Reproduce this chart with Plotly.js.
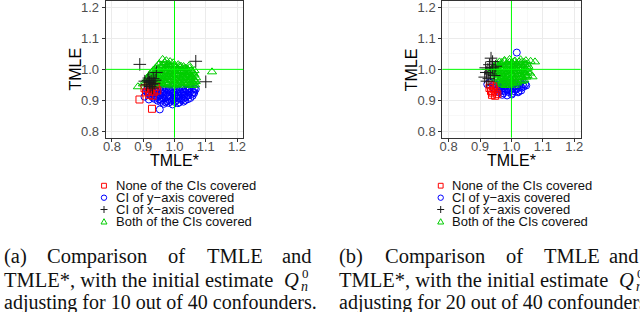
<!DOCTYPE html>
<html>
<head>
<meta charset="utf-8">
<script src="https://cdn.plot.ly/plotly-3.0.1.min.js"></script>
<style>html,body{margin:0;padding:0;background:#fff;}#chart{width:640px;height:312px;}</style>
</head>
<body>
<div id="chart"></div>
<script>
// ---------- Data ----------
const tickVals = [0.8, 0.9, 1.0, 1.1, 1.2];
const tickText = ["0.8", "0.9", "1.0", "1.1", "1.2"];
const legendLabels = ["None of the CIs covered", "CI of y\u2212axis covered", "CI of x\u2212axis covered", "Both of the CIs covered"];

// Panel (a): 10 of 40 confounders
const a_bothX = [0.962,0.974,0.986, 0.951,0.968,0.979,0.996,1.012, 0.943,0.958,0.973,0.991,1.004,1.021,1.036,
  0.933,0.948,0.966,0.979,0.996,1.011,1.024,1.041,1.054, 0.926,0.939,0.956,0.971,0.984,1.001,1.014,1.031,1.046,1.059,
  0.918,0.936,0.951,0.963,0.981,0.994,1.009,1.026,1.039,1.053,1.064, 0.913,0.931,0.944,0.962,0.976,0.989,1.006,1.019,1.034,1.051,1.062,
  0.908,0.924,0.941,0.954,0.971,0.986,0.999,1.016,1.029,1.046,1.058,1.068, 0.921,0.937,0.949,0.966,0.979,0.996,1.008,1.024,1.041,1.056,1.066,
  0.949,0.964,0.983,0.999,1.016,1.029, 0.939,0.956,0.971,0.988,1.003,1.018,1.033,1.048,
  0.931,0.946,0.963,0.978,0.993,1.008,1.022,1.038,1.052,1.064, 0.922,0.943,0.958,0.972,0.988,1.003,1.017,1.032,1.047,1.061,
  0.916,0.938,0.953,0.969,0.983,0.998,1.012,1.027,1.043,1.057,1.069, 0.917,0.933,0.948,0.963,0.979,0.993,1.008,1.022,1.038,1.052,1.064,
  0.914,0.929,0.943,0.958,0.973,0.988,1.003,1.017,1.033,1.049,1.061,
  1.120,0.883,0.899,1.047];
const a_bothY = [1.032,1.028,1.025, 1.018,1.022,1.016,1.021,1.015, 1.008,1.012,1.006,1.011,1.007,1.010,1.004,
  0.998,1.002,0.997,1.001,0.999,1.003,0.996,1.001,0.997, 0.989,0.992,0.987,0.991,0.988,0.993,0.986,0.990,0.988,0.991,
  0.979,0.982,0.977,0.981,0.978,0.983,0.979,0.976,0.981,0.978,0.982, 0.969,0.972,0.967,0.971,0.968,0.973,0.966,0.970,0.968,0.972,0.967,
  0.959,0.962,0.957,0.961,0.958,0.963,0.956,0.960,0.958,0.962,0.957,0.961, 0.951,0.948,0.953,0.949,0.952,0.947,0.951,0.949,0.953,0.948,0.950,
  1.014,1.012,1.015,1.013,1.011,1.009, 1.004,1.006,1.003,1.005,1.004,1.006,1.003,1.005,
  0.994,0.996,0.993,0.995,0.994,0.996,0.993,0.995,0.994,0.996, 0.984,0.986,0.983,0.985,0.984,0.986,0.983,0.985,0.984,0.986,
  0.974,0.976,0.973,0.975,0.974,0.976,0.973,0.975,0.974,0.976,0.973, 0.964,0.966,0.963,0.965,0.964,0.966,0.963,0.965,0.964,0.966,0.963,
  0.955,0.953,0.956,0.954,0.955,0.953,0.956,0.954,0.955,0.953,0.956,
  0.992,0.944,0.953,1.012];
const a_yX = [0.916,0.929,0.946,0.961,0.974,0.991,1.004,1.021,1.036,1.049,1.064,
  0.909,0.926,0.939,0.956,0.969,0.986,0.999,1.016,1.029,1.046,1.061,
  0.921,0.934,0.951,0.964,0.981,0.994,1.011,1.024,1.041,1.056,
  0.931,0.944,0.961,0.976,0.989,1.006,1.019,1.036,1.051,
  0.946,0.959,0.976,0.991,1.004,1.021,1.034,
  0.966,0.981,0.994,1.011,
  0.912,0.922,0.936,0.951,0.966,0.981,0.996,1.011,1.026,1.041,1.056,1.068,
  0.914,0.929,0.944,0.959,0.974,0.989,1.004,1.019,1.034,1.049,1.063,
  0.926,0.939,0.954,0.969,0.984,0.999,1.014,1.029,1.044,1.058,
  0.936,0.951,0.966,0.981,0.997,1.012,1.027,1.043,
  0.956,0.971,0.986,1.001,1.016,1.029,
  0.953,0.904,0.918];
const a_yY = [0.941,0.938,0.942,0.937,0.940,0.943,0.939,0.941,0.936,0.940,0.938,
  0.929,0.932,0.927,0.931,0.928,0.933,0.926,0.930,0.928,0.932,0.927,
  0.919,0.922,0.917,0.921,0.918,0.923,0.916,0.920,0.918,0.921,
  0.909,0.912,0.907,0.911,0.908,0.913,0.906,0.910,0.908,
  0.899,0.902,0.897,0.901,0.898,0.902,0.900,
  0.889,0.892,0.887,0.891,
  0.935,0.934,0.936,0.935,0.934,0.936,0.935,0.934,0.936,0.935,0.934,0.936,
  0.925,0.924,0.926,0.925,0.924,0.926,0.925,0.924,0.926,0.925,0.924,
  0.915,0.914,0.916,0.915,0.914,0.916,0.915,0.914,0.916,0.915,
  0.905,0.904,0.906,0.905,0.904,0.906,0.905,0.904,
  0.895,0.894,0.896,0.895,0.894,0.896,
  0.871,0.912,0.903];
const a_noneX = [0.888,0.928,0.904,0.935,0.919,0.940,0.909,0.925,0.915,0.930,0.945,0.921];
const a_noneY = [0.903,0.873,0.939,0.928,0.918,0.944,0.926,0.935,0.945,0.915,0.932,0.928];
const a_xX = [0.889,1.068,1.100,0.942,0.915,0.920,0.925,0.928,0.932,0.935,0.910,0.922,0.938,0.918,0.930,0.905];
const a_xY = [1.016,1.026,0.960,0.990,0.965,0.958,0.962,0.952,0.970,0.955,0.950,0.945,0.965,0.972,0.940,0.962];

// Panel (b): 20 of 40 confounders
const b_bothX = [0.978,0.994,1.011,1.029,1.046, 0.953,0.969,0.986,1.001,1.016,1.031,1.049,
  0.944,0.961,0.974,0.991,1.006,1.019,1.036,1.054, 0.939,0.954,0.971,0.984,1.001,1.014,1.031,1.046,
  0.941,0.956,0.969,0.986,0.999,1.016,1.029,1.044,1.059, 0.946,0.959,0.976,0.989,1.006,1.019,1.036,1.051,
  0.951,0.966,0.979,0.996,1.009,1.026,1.041, 0.956,0.971,0.984,1.001,1.014,1.031, 0.966,0.981,0.994,1.011,
  0.962,0.978,0.994,1.009,1.024,1.040, 0.952,0.968,0.982,0.998,1.012,1.027,1.043,
  0.946,0.962,0.977,0.993,1.008,1.022,1.038,1.052, 0.947,0.962,0.978,0.992,1.007,1.022,1.037,1.051,
  0.952,0.967,0.982,0.997,1.012,1.027,1.043, 0.957,0.972,0.987,1.002,1.017,1.033,1.047,
  0.962,0.977,0.992,1.007,1.022,1.037, 0.972,0.987,1.002,1.018,
  1.075,1.067,1.061,0.936];
const b_bothY = [1.029,1.032,1.027,1.031,1.028, 1.019,1.022,1.017,1.021,1.018,1.022,1.017,
  1.009,1.012,1.007,1.011,1.008,1.013,1.006,1.010, 0.999,1.002,0.997,1.001,0.998,1.003,0.996,1.000,
  0.989,0.992,0.987,0.991,0.988,0.993,0.986,0.990,0.988, 0.979,0.982,0.977,0.981,0.978,0.983,0.976,0.980,
  0.969,0.972,0.967,0.971,0.968,0.973,0.966, 0.959,0.962,0.957,0.961,0.958,0.962, 0.951,0.948,0.952,0.949,
  1.024,1.025,1.023,1.025,1.024,1.023, 1.014,1.015,1.013,1.015,1.014,1.013,1.015,
  1.004,1.005,1.003,1.005,1.004,1.003,1.005,1.004, 0.994,0.995,0.993,0.995,0.994,0.993,0.995,0.994,
  0.984,0.985,0.983,0.985,0.984,0.983,0.985, 0.974,0.975,0.973,0.975,0.974,0.973,0.975,
  0.964,0.965,0.963,0.965,0.964,0.963, 0.955,0.956,0.954,0.956,
  1.024,0.976,1.026,0.995];
const b_yX = [1.017,0.923, 0.961,0.976,0.991,1.009,1.029,1.044, 0.951,0.966,0.981,0.996,1.011,1.024,1.039,
  0.956,0.969,0.986,0.999,1.016,1.031, 0.961,0.974,0.991,1.004,1.021, 0.971,0.986,1.001,
  0.931,0.946,0.958,0.973,0.988,1.003,1.018,1.036, 0.943,0.957,0.972,0.987,1.002,1.017,1.032,1.047,
  0.962,0.978,0.993,1.008,1.023];
const b_yY = [1.054,0.952, 0.956,0.953,0.957,0.954,0.956,0.952, 0.946,0.943,0.947,0.944,0.946,0.942,0.945,
  0.936,0.933,0.937,0.934,0.936,0.932, 0.926,0.923,0.927,0.924,0.926, 0.918,0.916,0.919,
  0.958,0.951,0.950,0.949,0.951,0.950,0.949,0.951, 0.941,0.940,0.939,0.941,0.940,0.939,0.941,0.948,
  0.930,0.929,0.931,0.930,0.929];
const b_noneX = [0.930,0.935,0.940,0.945,0.938,0.950,0.942,0.955,0.932,0.948];
const b_noneY = [0.940,0.930,0.925,0.935,0.918,0.928,0.945,0.920,0.950,0.915];
const b_xX = [0.935,0.940,0.930,0.925,0.940,0.920,0.933,0.915,0.928,0.945,0.922,0.950,0.918];
const b_xY = [1.036,1.025,1.015,1.000,1.005,0.990,0.985,0.975,0.970,0.980,0.962,1.010,1.005];

// ---------- Styling ----------
const RED = "#ff0000", BLUE = "#0000ff", BLACK = "#1a1a1a", GREEN = "#00cd00", REFLINE = "#00ff00";
const W = 640, H = 312;
const px = v => v / W;
const py = v => 1 - v / H;

function series(x, y, xa, ya, symbol, color, size) {
  return {type: "scatter", mode: "markers", x: x, y: y, xaxis: xa, yaxis: ya, hoverinfo: "skip",
    marker: {symbol: symbol, size: size, color: color, line: {color: color, width: 1}}, showlegend: false};
}

const traces = [
  series(a_yX, a_yY, "x", "y", "circle-open", BLUE, 7),
  series(a_bothX, a_bothY, "x", "y", "triangle-up-open", GREEN, 8),
  series(a_noneX, a_noneY, "x", "y", "square-open", RED, 7),
  series(a_xX, a_xY, "x", "y", "cross-thin-open", BLACK, 9),
  series(b_yX, b_yY, "x2", "y2", "circle-open", BLUE, 7),
  series(b_bothX, b_bothY, "x2", "y2", "triangle-up-open", GREEN, 8),
  series(b_noneX, b_noneY, "x2", "y2", "square-open", RED, 7),
  series(b_xX, b_xY, "x2", "y2", "cross-thin-open", BLACK, 9)
];

const SANS = "Liberation Sans, Arial, sans-serif";
const SERIF = "Liberation Serif, Times New Roman, serif";

function axis(domain, anchor, isX) {
  const a = {
    domain: domain, anchor: anchor, range: [0.78, 1.22], autorange: false,
    tickmode: "array", tickvals: tickVals, ticktext: tickText,
    ticks: "outside", ticklen: 3, tickwidth: 1, tickcolor: "#333333",
    tickfont: {family: SANS, size: 13, color: "#4d4d4d"}, ticklabeloverflow: "allow",
    showline: true, mirror: true, linecolor: "#333333", linewidth: 1,
    showgrid: true, gridcolor: "#ebebeb", gridwidth: 1, zeroline: false,
    minor: {tick0: 0.75, dtick: 0.05, showgrid: true, gridcolor: "#f3f3f3", gridwidth: 0.6, ticks: ""}
  };
  if (isX) a.ticklabelstandoff = -6;
  return a;
}

const yDom = [py(137.7), py(1)];
const layout = {
  width: W, height: H, margin: {l: 0, r: 0, t: 0, b: 0},
  paper_bgcolor: "#ffffff", plot_bgcolor: "#ffffff", showlegend: false,
  xaxis: axis([px(105.7), px(243.3)], "y", true),
  yaxis: axis(yDom, "x", false),
  xaxis2: axis([px(442.3), px(580.6)], "y2", true),
  yaxis2: axis(yDom, "x2", false),
  shapes: [],
  annotations: []
};

// reference lines at 1
[["x", "y"], ["x2", "y2"]].forEach(([xa, ya]) => {
  layout.shapes.push({type: "line", xref: xa, yref: ya + " domain", x0: 1, x1: 1, y0: 0, y1: 1, line: {color: REFLINE, width: 1}, layer: "above"});
  layout.shapes.push({type: "line", xref: xa + " domain", yref: ya, x0: 0, x1: 1, y0: 1, y1: 1, line: {color: REFLINE, width: 1}, layer: "above"});
});

function ann(text, x, y, opts) {
  layout.annotations.push(Object.assign({text: text, x: px(x), y: py(y), xref: "paper", yref: "paper",
    showarrow: false, xanchor: "left", yanchor: "middle", font: {family: SANS, size: 13, color: "#000"}}, opts || {}));
}

// axis titles
[[174, 75], [511.3, 411.7]].forEach(([cx, ty]) => {
  ann("TMLE*", cx, 160, {xanchor: "center", font: {family: SANS, size: 16, color: "#000"}});
  ann("TMLE", ty, 69.5, {xanchor: "center", textangle: -90, font: {family: SANS, size: 16, color: "#000"}});
});

// legend glyphs (paper-space shapes) and labels
function legendGlyph(kind, cx, cy, color) {
  const s = {xref: "paper", yref: "paper", line: {color: color, width: 1}};
  const r = 2.4;
  if (kind === 0) Object.assign(s, {type: "rect", x0: px(cx - r), x1: px(cx + r), y0: py(cy + r), y1: py(cy - r)});
  if (kind === 1) Object.assign(s, {type: "circle", x0: px(cx - r - 0.3), x1: px(cx + r + 0.3), y0: py(cy + r + 0.3), y1: py(cy - r - 0.3)});
  if (kind === 2) Object.assign(s, {type: "path", path: "M" + px(cx - 3.5) + "," + py(cy) + " L" + px(cx + 3.5) + "," + py(cy) +
    " M" + px(cx) + "," + py(cy - 3.5) + " L" + px(cx) + "," + py(cy + 3.5)});
  if (kind === 3) Object.assign(s, {type: "path", path: "M" + px(cx - 3) + "," + py(cy + 2.3) + " L" + px(cx + 3) + "," + py(cy + 2.3) +
    " L" + px(cx) + "," + py(cy - 3) + " Z"});
  layout.shapes.push(s);
}
const legCols = [RED, BLUE, BLACK, GREEN];
const legRows = [185.7, 197.7, 209.5, 221.7];
[[104, 114], [440.7, 449.5]].forEach(([mx, tx]) => {
  legRows.forEach((ry, i) => {
    legendGlyph(i, mx, ry, legCols[i]);
    ann(legendLabels[i], tx, ry, {font: {family: SANS, size: 13, color: "#111"}});
  });
});

// captions (serif; first line spread out as in the justified reference)
const capFont = {family: SERIF, size: 20.5, color: "#111"};
const capFont3 = {family: SERIF, size: 20, color: "#111"};
const capLine1a = [["(a)", 2], ["Comparison", 45], ["of", 166], ["TMLE", 205], ["and", 280]];
const capLine1b = [["(b)", 337], ["Comparison", 383], ["of", 504], ["TMLE", 542], ["and", 607]];
capLine1a.concat(capLine1b).forEach(([t, x]) => ann(t, x, 256, {font: capFont}));
[{x0: 2, n: "10"}, {x0: 337, n: "20"}].forEach(p => {
  ann("TMLE*, with the initial estimate", p.x0, 280, {font: capFont});
  ann("<i>Q</i>", p.x0 + 280, 280, {font: capFont});
  ann("0", p.x0 + 298, 273, {font: {family: SERIF, size: 13, color: "#111"}});
  ann("<i>n</i>", p.x0 + 297, 286, {font: {family: SERIF, size: 14, color: "#111"}});
  ann("adjusting for " + p.n + " out of 40 confounders.", p.x0, 302.5, {font: capFont3});
});

Plotly.newPlot("chart", traces, layout, {staticPlot: true, displayModeBar: false});
</script>
</body>
</html>
